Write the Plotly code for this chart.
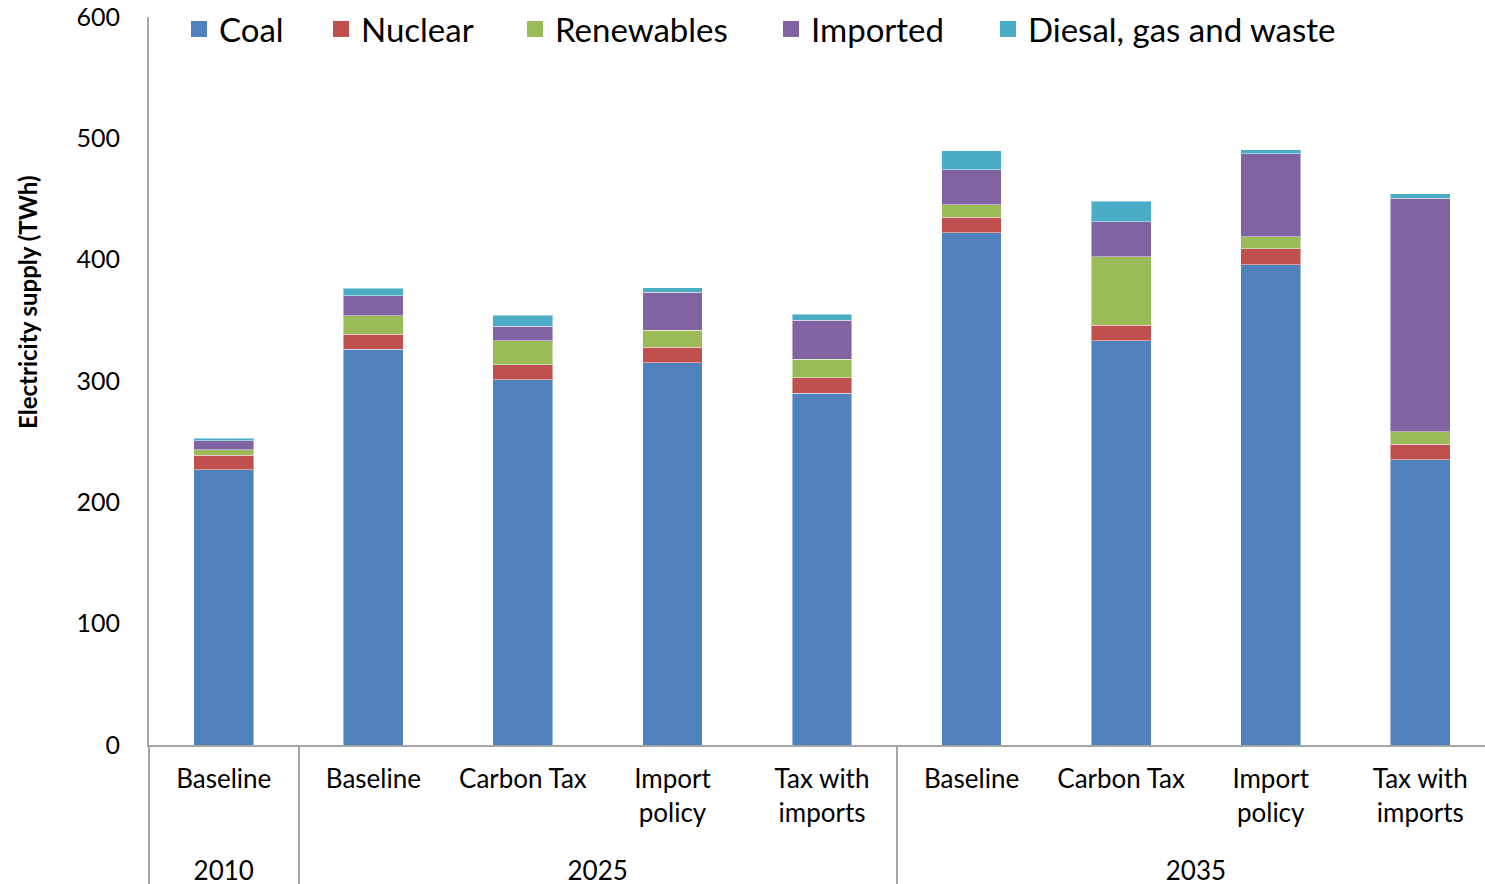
import plotly.graph_objects as go

years = ["2010", "2025", "2025", "2025", "2025", "2035", "2035", "2035", "2035"]
scenarios = ["Baseline", "Baseline", "Carbon Tax", "Import<br>policy<br>\u00a0", "Tax with<br>imports<br>\u00a0",
             "Baseline", "Carbon Tax", "Import<br>policy<br>\u00a0", "Tax with<br>imports<br>\u00a0"]

coal = [227, 326, 301, 315, 290, 422, 333, 396, 235]
nuclear = [12, 12.6, 12.6, 12.7, 12.7, 12.9, 12.9, 12.9, 12.7]
renewables = [4.4, 15.1, 19.5, 14, 15.3, 10.5, 56.4, 10.1, 10.4]
imported = [7.2, 16.5, 12.1, 31.3, 32.1, 28.6, 28.8, 68.5, 192.6]
diesel = [2.4, 6.4, 9.1, 3.9, 5.0, 15.6, 17.0, 3.3, 3.6]

series = [
    ("Coal", coal, "#4F81BD"),
    ("Nuclear", nuclear, "#C0504D"),
    ("Renewables", renewables, "#9BBB59"),
    ("Imported", imported, "#8064A2"),
    ("Diesal, gas and waste", diesel, "#4BACC6"),
]

# left edge of each legend entry, in pixels
legend_left_px = [179, 321, 515, 771, 988]

FONT = "Lato"
L, R, T, B = 149, 0, 17, 139
W, H = 1485, 884
plot_w = W - L - R

fig = go.Figure()
legend_layouts = {}
for i, (name, vals, color) in enumerate(series):
    lg = "legend" if i == 0 else f"legend{i + 1}"
    fig.add_trace(go.Bar(
        x=[years, scenarios], y=vals, name=name,
        marker=dict(color=color, line=dict(color="rgba(255,255,255,0.45)", width=1)),
        showlegend=False,
    ))
    # legend swatch
    fig.add_trace(go.Scatter(
        x=[None], y=[None], mode="markers", name=name, legend=lg,
        marker=dict(symbol="square", size=21, color=color),
    ))
    legend_layouts[lg] = dict(
        orientation="h", x=(legend_left_px[i] - L) / plot_w, y=0.9835,
        xanchor="left", yanchor="middle", font=dict(size=33),
        bgcolor="rgba(0,0,0,0)", itemwidth=30,
    )

fig.update_layout(
    width=W, height=H,
    barmode="stack", bargap=0.6,
    plot_bgcolor="white", paper_bgcolor="white",
    margin=dict(l=L, r=R, t=T, b=B, autoexpand=False),
    font=dict(family=FONT, size=25, color="black"),
    xaxis=dict(type="multicategory", range=[-0.5, 8.433],
               showline=True, linecolor="#A6A6A6", linewidth=2,
               showdividers=True, dividercolor="#A6A6A6", dividerwidth=2,
               tickfont=dict(size=26), showgrid=False, ticks="", ticklabelstandoff=10),
    yaxis=dict(range=[0, 600], tickvals=[0, 100, 200, 300, 400, 500, 600],
               showline=True, linecolor="#A6A6A6", linewidth=2, showgrid=False,
               ticks="", tickfont=dict(size=25), zeroline=False, ticklabelstandoff=22),
    annotations=[dict(text="<b>Electricity supply (TWh)</b>", textangle=-90,
                      xref="paper", yref="paper", x=-0.0913, y=0.6085,
                      xanchor="center", yanchor="middle",
                      showarrow=False, font=dict(size=24))],
    **legend_layouts,
)

fig.write_html("out.html")
